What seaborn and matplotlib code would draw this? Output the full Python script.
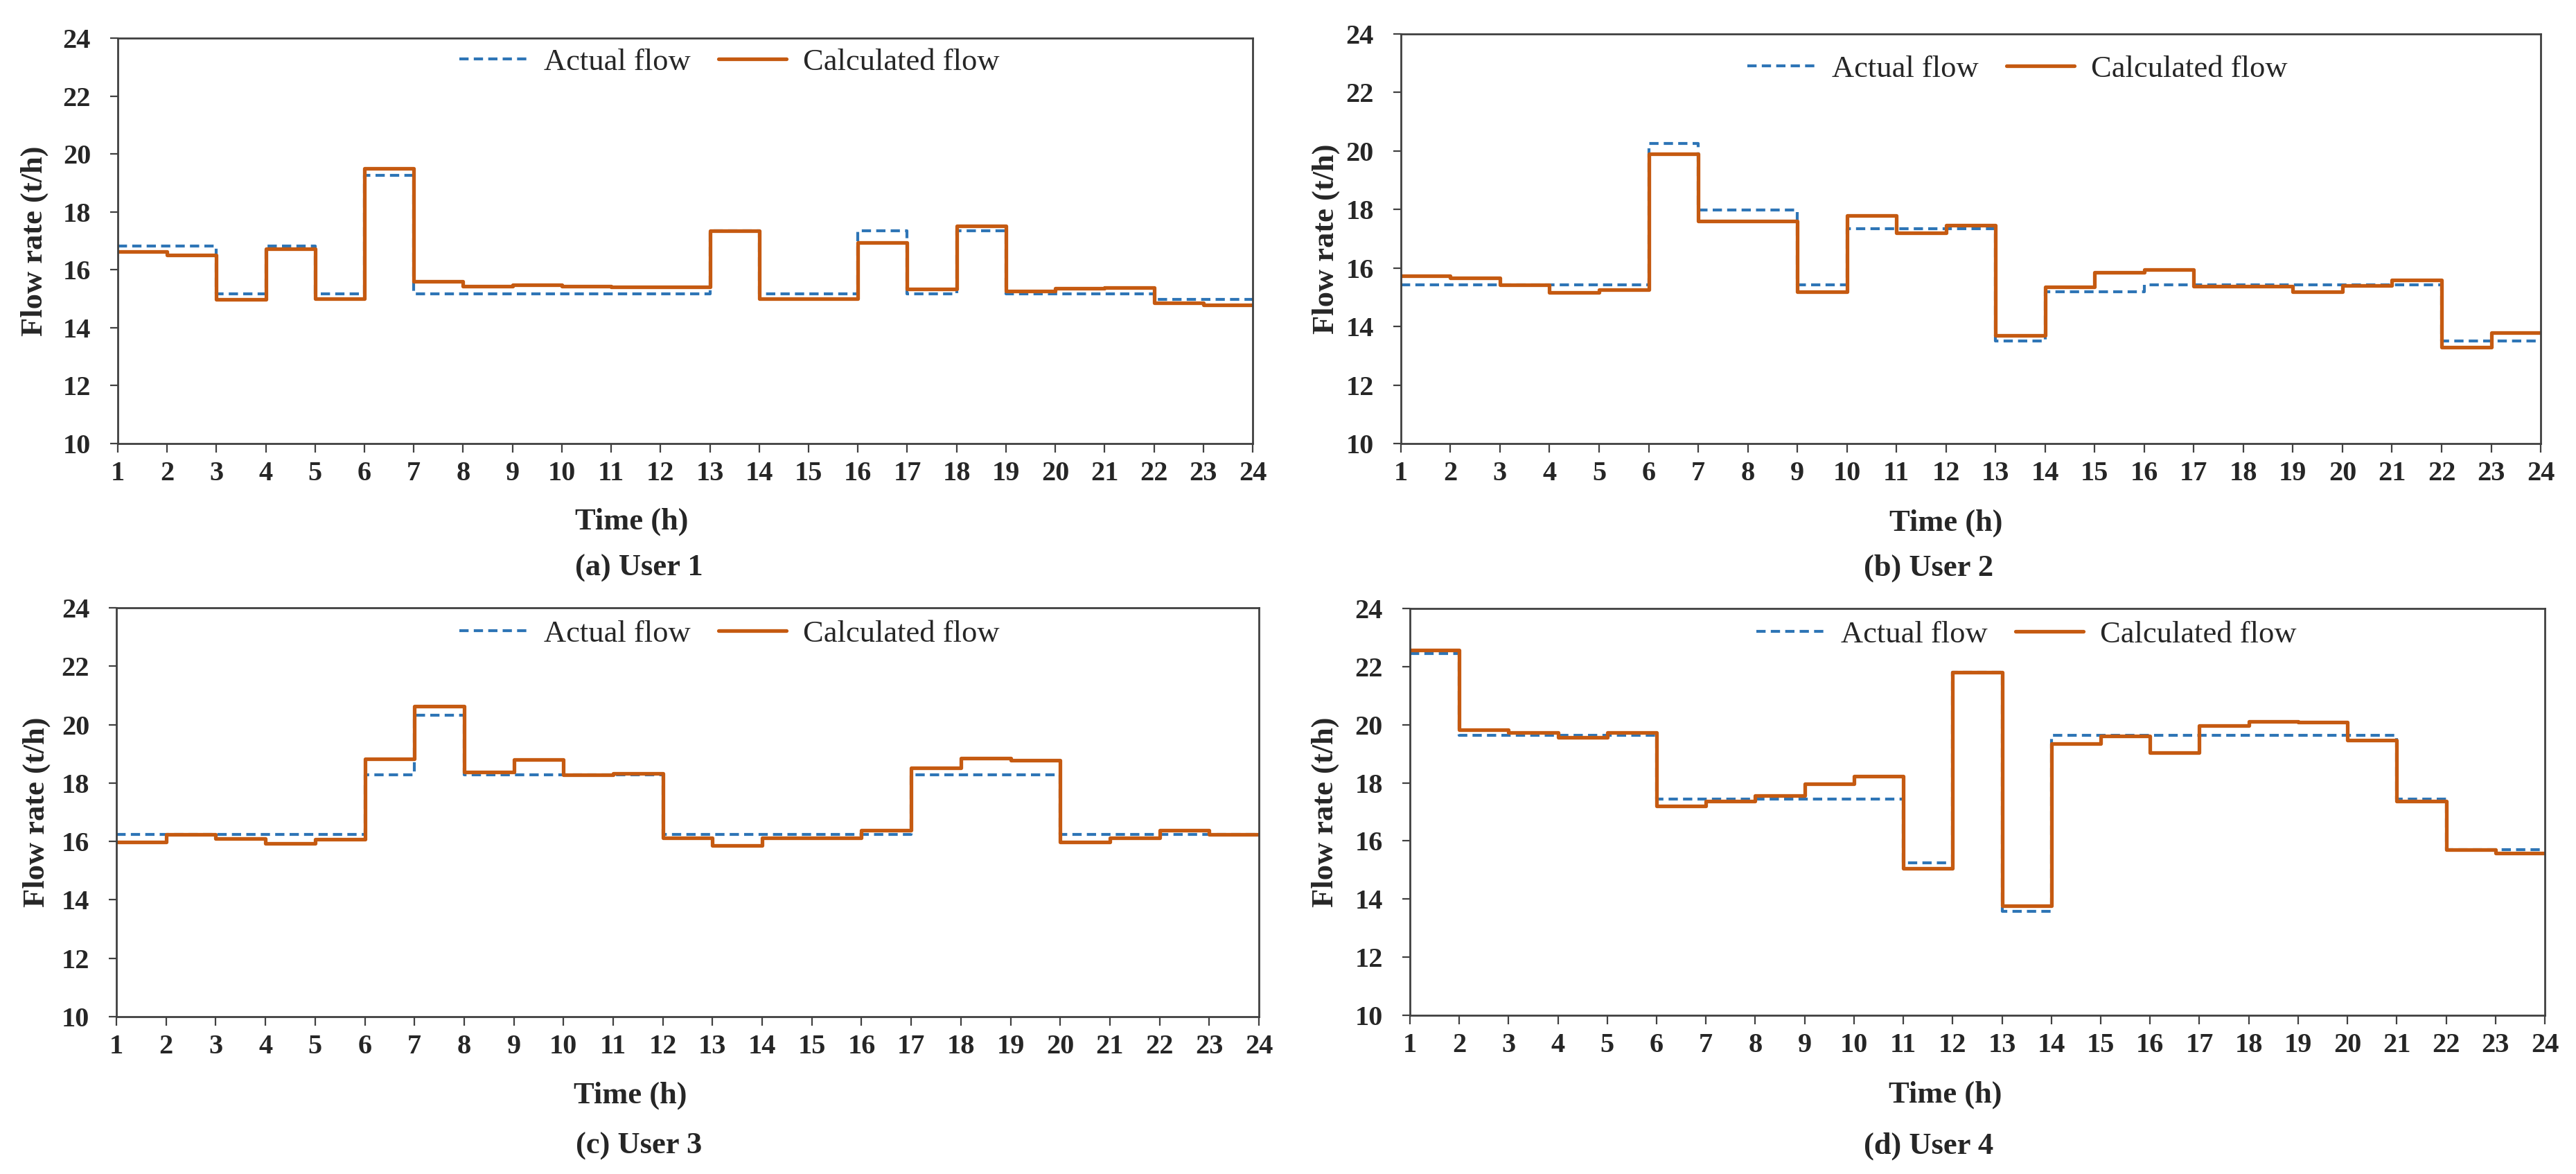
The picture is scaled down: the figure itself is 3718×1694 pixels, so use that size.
import numpy as np
import pandas as pd
import matplotlib
matplotlib.use('Agg')           # no display, save to file
import matplotlib.pyplot as plt
import seaborn as sns

sns.set_style('ticks')
plt.rcParams['font.family'] = ['Liberation Serif', 'DejaVu Serif']
plt.rcParams['axes.linewidth'] = 2.0

# ─────────────────────────────────────────────
# Data: hourly flow rate (t/h), one value per interval h -> h+1
hours = list(range(1, 25))

actual_u1 = [16.83, 16.83, 15.17, 16.83, 15.17, 19.27, 15.17, 15.17, 15.17, 15.17,
             15.17, 15.17, 17.34, 15.17, 15.17, 17.34, 15.17, 17.34, 15.17, 15.17,
             15.17, 14.98, 14.98]
calc_u1   = [16.63, 16.50, 14.98, 16.72, 15.00, 19.51, 15.60, 15.44, 15.49, 15.44,
             15.40, 15.40, 17.34, 15.00, 15.00, 16.93, 15.34, 17.52, 15.27, 15.35,
             15.38, 14.87, 14.78]

actual_u2 = [15.42, 15.42, 15.42, 15.42, 15.42, 20.25, 17.98, 17.98, 15.42, 17.34,
             17.34, 17.34, 13.50, 15.18, 15.18, 15.42, 15.42, 15.42, 15.42, 15.42,
             15.42, 13.50, 13.50]
calc_u2   = [15.74, 15.67, 15.42, 15.16, 15.26, 19.90, 17.60, 17.60, 15.18, 17.80,
             17.21, 17.47, 13.70, 15.36, 15.85, 15.94, 15.37, 15.37, 15.18, 15.40,
             15.58, 13.30, 13.80]

actual_u3 = [16.24, 16.24, 16.24, 16.24, 16.24, 18.28, 20.32, 18.28, 18.28, 18.28,
             18.28, 16.24, 16.24, 16.24, 16.24, 16.24, 18.28, 18.28, 18.28, 16.24,
             16.24, 16.24, 16.24]
calc_u3   = [15.97, 16.24, 16.10, 15.94, 16.07, 18.82, 20.64, 18.37, 18.80, 18.28,
             18.33, 16.13, 15.85, 16.13, 16.13, 16.39, 18.53, 18.86, 18.78, 15.97,
             16.13, 16.39, 16.24]

actual_u4 = [22.45, 19.64, 19.64, 19.64, 19.64, 17.45, 17.45, 17.45, 17.45, 17.45,
             15.25, 21.81, 13.57, 19.64, 19.64, 19.64, 19.64, 19.64, 19.64, 19.64,
             17.45, 15.70, 15.70]
calc_u4   = [22.58, 19.83, 19.73, 19.57, 19.73, 17.21, 17.38, 17.55, 17.96, 18.22,
             15.06, 21.81, 13.77, 19.35, 19.61, 19.03, 19.96, 20.12, 20.09, 19.47,
             17.38, 15.70, 15.57]

captions = ['(a) User 1', '(b) User 2', '(c) User 3', '(d) User 4']
y_ticks  = [10, 12, 14, 16, 18, 20, 22, 24]

panels = [(actual_u1, calc_u1), (actual_u2, calc_u2),
          (actual_u3, calc_u3), (actual_u4, calc_u4)]

BLUE   = '#2E75B6'
ORANGE = '#C55A11'
SPINE  = '#404040'

axes_pos   = [[0.0457, 0.6222, 0.4406, 0.3453],
              [0.5438, 0.6222, 0.4425, 0.3489],
              [0.0452, 0.1340, 0.4435, 0.3483],
              [0.5473, 0.1352, 0.4406, 0.3465]]
xlab_pos   = [(0.453, -0.193), (0.478, -0.195), (0.450, -0.192), (0.472, -0.196)]
ylab_x     = [-0.0733, -0.066, -0.0697, -0.0745]
legend_pos = [(0.2832, 0.9469), (0.7832, 0.9410), (0.2832, 0.4599), (0.7867, 0.4593)]
cap_pos    = [(922, 820), (2784, 820), (922, 1654), (2784, 1654)]

W, H = 3718, 1694
fig = plt.figure(figsize=(W / 100, H / 100), dpi=100)


def step_frame(values):
    # repeat the last interval value so the final step reaches hour 24
    return pd.DataFrame({'hour': hours, 'flow': list(values) + [values[-1]]})


for i, (actual, calc) in enumerate(panels):
    ax = fig.add_axes(axes_pos[i])

    sns.lineplot(data=step_frame(actual), x='hour', y='flow', ax=ax,
                 drawstyle='steps-post', color=BLUE, linewidth=3.0,
                 linestyle=(0, (3.2, 1.8)), label='Actual flow')
    sns.lineplot(data=step_frame(calc), x='hour', y='flow', ax=ax,
                 drawstyle='steps-post', color=ORANGE, linewidth=3.8,
                 label='Calculated flow')

    ax.set_xlim(1, 24)
    ax.set_ylim(10, 24)
    ax.set_xticks(hours)
    ax.set_yticks(y_ticks)

    for sp in ax.spines.values():
        sp.set_color(SPINE)
        sp.set_linewidth(2.0)
    ax.tick_params(axis='x', direction='out', length=9, width=1.6, color=SPINE,
                   pad=9, labelsize=29)
    ax.tick_params(axis='y', direction='out', length=8, width=1.6, color=SPINE,
                   pad=20, labelsize=29)
    for lab in ax.get_xticklabels() + ax.get_yticklabels():
        lab.set_fontweight('bold')

    ax.set_xlabel('Time (h)', fontsize=32, fontweight='bold', va='center')
    ax.xaxis.set_label_coords(*xlab_pos[i])
    ax.set_ylabel('Flow rate (t/h)', fontsize=32, fontweight='bold', va='center')
    ax.yaxis.set_label_coords(ylab_x[i], 0.5)

    ax.legend(loc='center', bbox_to_anchor=legend_pos[i],
              bbox_transform=fig.transFigure, ncol=2, frameon=False,
              fontsize=32, handlelength=2.2, handletextpad=0.55,
              columnspacing=0.9)

    fig.text(cap_pos[i][0] / W, 1 - cap_pos[i][1] / H, captions[i],
             ha='center', va='center', fontsize=32, fontweight='bold')

fig.savefig('out.png', dpi=100, facecolor='white')
plt.close(fig)
print("Chart saved -> out.png")
